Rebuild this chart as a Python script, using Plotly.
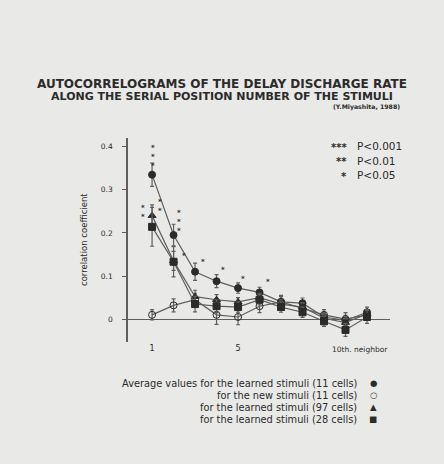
import plotly.graph_objects as go

# ---- data ----
neighbor = [1, 2, 3, 4, 5, 6, 7, 8, 9, 10, 11]
learned_11 = [0.335, 0.195, 0.110, 0.088, 0.072, 0.062, 0.040, 0.037, 0.005, -0.003, 0.016]
learned_11_err = [0.027, 0.025, 0.020, 0.015, 0.012, 0.012, 0.012, 0.012, 0.010, 0.012, 0.012]
new_11 = [0.010, 0.032, 0.045, 0.010, 0.005, 0.030, 0.040, 0.025, 0.010, 0.000, 0.010]
new_11_err = [0.012, 0.015, 0.015, 0.022, 0.018, 0.015, 0.015, 0.012, 0.012, 0.015, 0.012]
learned_97 = [0.240, 0.135, 0.052, 0.045, 0.040, 0.050, 0.035, 0.028, 0.002, -0.008, 0.012]
learned_97_err = [0.025, 0.022, 0.015, 0.012, 0.010, 0.010, 0.010, 0.010, 0.010, 0.010, 0.010]
learned_28 = [0.214, 0.133, 0.035, 0.030, 0.028, 0.045, 0.028, 0.016, -0.005, -0.025, 0.005]
learned_28_err = [0.045, 0.035, 0.018, 0.015, 0.012, 0.012, 0.012, 0.012, 0.012, 0.015, 0.015]

series_names = ["Average values for the learned stimuli (11 cells)",
                "for the new stimuli (11 cells)",
                "for the learned stimuli (97 cells)",
                "for the learned stimuli (28 cells)"]

# significance marks
sig_x = [1.05, 0.6, 1.35, 2.25, 2.5, 3.35, 4.3, 5.25, 6.4]
sig_y = [0.375, 0.248, 0.262, 0.225, 0.147, 0.133, 0.115, 0.092, 0.086]
sig_n = [3, 2, 2, 3, 1, 1, 1, 1, 1]

title1 = "AUTOCORRELOGRAMS OF THE DELAY DISCHARGE RATE"
title2 = "ALONG THE SERIAL POSITION NUMBER OF THE STIMULI"
source = "(Y.Miyashita, 1988)"
p_keys = ["***", "**", "*"]
p_vals = ["P<0.001", "P<0.01", "P<0.05"]
y_ticks = [0, 0.1, 0.2, 0.3, 0.4]
y_ticktext = ["0", "0.1", "0.2", "0.3", "0.4"]
x_ticks = [1, 5]
x_ticktext = ["1", "5"]

INK = "#2b2b2b"
LINE = "#5e5e5e"
BG = "#e9e9e7"
FONT = "DejaVu Sans"

W, H = 444, 464
L, R, T, B = 128, 54, 138, 122
PW, PH = W - L - R, H - T - B


def px(xp):
    return (xp - L) / PW


def py(yp):
    return (H - B - yp) / PH


fig = go.Figure()
styles = [
    (learned_11, learned_11_err, "circle"),
    (new_11, new_11_err, "circle-open"),
    (learned_97, learned_97_err, "triangle-up"),
    (learned_28, learned_28_err, "square"),
]
for (vals, err, sym), name in zip(styles, series_names):
    fig.add_trace(go.Scatter(
        x=neighbor, y=vals, mode="lines+markers", name=name,
        line=dict(color=LINE, width=1.2),
        marker=dict(symbol=sym, size=7, color=INK, line=dict(color=INK, width=1)),
        error_y=dict(type="data", array=err, color=LINE, thickness=1.2, width=2),
        showlegend=False,
    ))

for x, y, n in zip(sig_x, sig_y, sig_n):
    fig.add_annotation(x=x, y=y, xref="x", yref="y", text="<b>" + "<br>".join(["*"] * n) + "</b>",
                       showarrow=False, font=dict(family=FONT, size=7, color=INK))


def note(xp, yp, text, size, anchor="center", bold=False, angle=0):
    fig.add_annotation(x=px(xp), y=py(yp), xref="paper", yref="paper",
                       text=("<b>" + text + "</b>") if bold else text,
                       showarrow=False, xanchor=anchor, yanchor="middle", textangle=angle,
                       font=dict(family=FONT, size=size, color=INK))


# titles
note(222, 84, title1, 12, bold=True)
note(222, 96, title2, 11, bold=True)
note(402, 107, source, 6.2, anchor="right", bold=True)

# P legend
for i, (k, v) in enumerate(zip(p_keys, p_vals)):
    yy = 146 + 14.5 * i
    note(349, yy + 1, k, 10, anchor="right", bold=True)
    note(355, yy, v, 10.5, anchor="left")

# series legend at bottom
syms = ["●", "○", "▲", "■"]
for i, (name, s) in enumerate(zip(series_names, syms)):
    yy = 383 + 12 * i
    note(359, yy, name, 9.8, anchor="right")
    note(373, yy, s, 8.5)

# axis title and x-end label
note(84, 240, "correlation coefficient", 8.5, angle=-90)
note(360, 349, "10th. neighbor", 7.5)

fig.update_layout(
    width=W, height=H,
    margin=dict(l=L, r=R, t=T, b=B),
    paper_bgcolor=BG, plot_bgcolor=BG,
    xaxis=dict(range=[-0.12, 12.07], showgrid=False, zeroline=False, showline=False,
               tickvals=x_ticks, ticktext=x_ticktext, ticks="",
               tickfont=dict(family=FONT, size=8, color=INK)),
    yaxis=dict(range=[-0.053, 0.42], showgrid=False, zeroline=True, zerolinecolor=LINE, zerolinewidth=1.2,
               showline=True, linecolor=LINE, linewidth=1.5, ticks="outside", ticklen=4, tickcolor=LINE,
               tickvals=y_ticks, ticktext=y_ticktext, ticklabelstandoff=8,
               tickfont=dict(family=FONT, size=7.5, color=INK)),
)

fig.write_html("out.html", config={"displayModeBar": False},
               post_script="document.body.style.margin='0';document.body.style.overflow='hidden';")
